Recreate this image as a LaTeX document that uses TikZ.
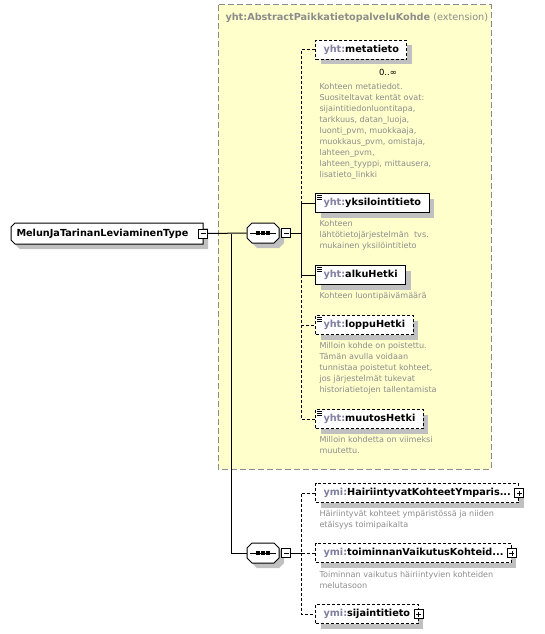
\documentclass[tikz,border=0pt]{standalone}
\usepackage{fontspec}
\setmainfont{DejaVu Sans}
\usetikzlibrary{positioning,shadows}

\definecolor{extfill}{HTML}{FFFFCC}
\definecolor{extline}{HTML}{8C8C8C}
\definecolor{nsgray}{HTML}{7F7F9F}
\definecolor{docgray}{HTML}{8C8C8C}
\definecolor{shadowgray}{HTML}{C0C0C0}

\tikzset{
  boxshadow/.style={drop shadow={shadow xshift=5pt, shadow yshift=-5pt, fill=shadowgray, opacity=1}},
  elem/.style={draw, fill=white, boxshadow, anchor=west, minimum height=19pt,
    inner xsep=8pt, inner ysep=0pt, font=\fontsize{9.7}{11}\selectfont\bfseries},
  optelem/.style={elem, dash pattern=on 3pt off 2pt},
  optline/.style={dash pattern=on 3pt off 2pt},
  seqbox/.style={inner sep=0pt, minimum width=32pt, minimum height=20pt},
  minusbox/.style={draw, fill=white, minimum size=9pt, inner sep=0pt, line width=0.8pt,
    path picture={\draw ([xshift=2pt]path picture bounding box.west) -- ([xshift=-2pt]path picture bounding box.east);}},
  plusbox/.style={minusbox,
    path picture={\draw ([xshift=2pt]path picture bounding box.west) -- ([xshift=-2pt]path picture bounding box.east);
                  \draw ([yshift=-2pt]path picture bounding box.north) -- ([yshift=2pt]path picture bounding box.south);}},
  descr/.style={anchor=north west, inner sep=0pt, align=left, text=docgray,
    font=\fontsize{8.1}{11}\selectfont},
}
\newcommand{\ns}[1]{\textcolor{nsgray}{#1:}}
\newcommand{\leafmark}[1]{%
  \foreach \dy in {2,4,6} \draw[line width=0.8pt] ([shift={(2,\dy)}]#1.north west) -- ++(5,0);}
% beveled outline of a sequence compositor, x1 y1 x2 y2
\newcommand{\seqpath}[4]{(#1+5,#2) -- (#3-5,#2) -- (#3,#2+5) -- (#3,#4-5) -- (#3-5,#4)
  -- (#1+5,#4) -- (#1,#4-5) -- (#1,#2+5) -- cycle}
\newcommand{\seqdots}[1]{%
  \draw ([xshift=-13pt]#1.center) -- ([xshift=13pt]#1.center);
  \foreach \dx in {-5,0,5} \fill ([xshift=\dx pt]#1.center) +(-2,-1.6) rectangle +(2,1.6);}

\begin{document}
\begin{tikzpicture}[x=1pt, y=-1pt, line width=1pt]
  \useasboundingbox (0,0) rectangle (545,634);

  % extension base type
  \draw[extline, fill=extfill, dash pattern=on 6pt off 3pt] (218,5) rectangle (491,469);
  \node[anchor=west, inner sep=0pt, text=extline, font=\fontsize{9.7}{11}\selectfont] (exttitle) at (225,18)
    {\textbf{yht:AbstractPaikkatietopalveluKohde} (extension)};

  % the type
  \fill[shadowgray] (16+4,228) -- (208,228) -- (208,249) -- (16+4,249) -- (16,249-4) -- (16,228+4) -- cycle;
  \draw[fill=white] (11+4,223) -- (203,223) -- (203,244) -- (11+4,244) -- (11,244-4) -- (11,223+4) -- cycle;
  \node[anchor=west, inner xsep=5pt, inner ysep=0pt, font=\fontsize{9.7}{11}\selectfont\bfseries] (melun) at (11,233.5)
    {MelunJaTarinanLeviaminenType};
  \node[minusbox] (melunT) at (203,233.5) {};
  \coordinate (j1) at (231,233.5);

  % first sequence
  \fill[shadowgray] \seqpath{252}{228}{284}{248};
  \draw[fill=white] \seqpath{247}{223}{279}{243};
  \node[seqbox] (seqA) at (263,233) {};
  \seqdots{seqA}
  \node[minusbox] (seqAT) at (286,233) {};
  \coordinate (busA) at (301,233);

  \node[optelem] (metatieto) at (315,50) {\ns{yht}metatieto};
  \node[inner sep=0pt, font=\fontsize{8.5}{10}\selectfont] (metaN) at (388,72) {0..∞};
  \node[descr] (metaD) at (319,83) {Kohteen metatiedot.\\Suositeltavat kentät ovat:\\sijaintitiedonluontitapa,\\tarkkuus, datan\_luoja,\\luonti\_pvm, muokkaaja,\\muokkaus\_pvm, omistaja,\\lahteen\_pvm,\\lahteen\_tyyppi, mittausera,\\lisatieto\_linkki};

  \node[elem] (yksil) at (315,203) {\ns{yht}yksilointitieto};
  \leafmark{yksil}
  \node[descr] (yksilD) at (319,220) {Kohteen\\lähtötietojärjestelmän~~tvs.\\mukainen yksilöintitieto};

  \node[elem] (alku) at (315,275) {\ns{yht}alkuHetki};
  \leafmark{alku}
  \node[descr] (alkuD) at (319,292) {Kohteen luontipäivämäärä};

  \node[optelem] (loppu) at (315,325) {\ns{yht}loppuHetki};
  \leafmark{loppu}
  \node[descr] (loppuD) at (319,342) {Milloin kohde on poistettu.\\Tämän avulla voidaan\\tunnistaa poistetut kohteet,\\jos järjestelmät tukevat\\historiatietojen tallentamista};

  \node[optelem] (muutos) at (315,419) {\ns{yht}muutosHetki};
  \leafmark{muutos}
  \node[descr] (muutosD) at (319,436) {Milloin kohdetta on viimeksi\\muutettu.};

  % second sequence
  \fill[shadowgray] \seqpath{252}{548}{284}{568};
  \draw[fill=white] \seqpath{247}{543}{279}{563};
  \node[seqbox] (seqB) at (263,553) {};
  \seqdots{seqB}
  \node[minusbox] (seqBT) at (286,553) {};
  \coordinate (busB) at (301,553);

  \node[optelem] (hairi) at (315,493) {\ns{ymi}HairiintyvatKohteetYmparis...\hspace{3pt}};
  \node[plusbox] (hairiT) at (hairi.east) {};
  \node[descr] (hairiD) at (319,510) {Häiriintyvät kohteet ympäristössä ja niiden\\etäisyys toimipaikalta};

  \node[optelem] (toim) at (315,553) {\ns{ymi}toiminnanVaikutusKohteid...\hspace{3pt}};
  \node[plusbox] (toimT) at (toim.east) {};
  \node[descr] (toimD) at (319,571) {Toiminnan vaikutus häiriintyvien kohteiden\\melutasoon};

  \node[optelem] (sijainti) at (315,614) {\ns{ymi}sijaintitieto\hspace{3pt}};
  \node[plusbox] (sijaintiT) at (sijainti.east) {};

  % connectors
  \draw (melunT.east) -- (seqA.west);
  \draw (j1) |- (seqB.west);
  \draw (seqAT.east) -- (busA);
  \draw[optline] (metatieto.west) -| (busA |- yksil.west);
  \draw (yksil.west) -| (busA |- alku.west);
  \draw (alku.west) -- (busA |- alku.west);
  \draw[optline] (busA |- alku.west) |- (loppu.west);
  \draw[optline] (busA |- loppu.west) |- (muutos.west);
  \draw (seqBT.east) -- (busB);
  \draw[optline] (hairi.west) -| (busB);
  \draw[optline] (toim.west) -- (busB);
  \draw[optline] (busB) |- (sijainti.west);
\end{tikzpicture}
\end{document}
